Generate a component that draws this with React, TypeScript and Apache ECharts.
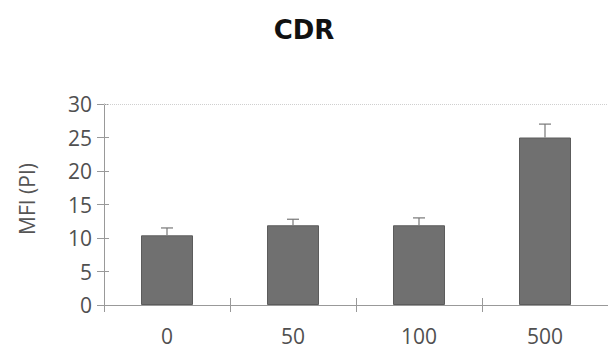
import React, { useEffect, useRef } from "react";
import * as echarts from "echarts";

const categories = ["0", "50", "100", "500"];
const meanValues = [10.4, 11.9, 11.9, 25.0];
const errorValues = [1.1, 0.9, 1.1, 2.0];
const yTicks = [0, 5, 10, 15, 20, 25, 30];
const yAxisTitle = "MFI (PI)";

export default function App() {
  const ref = useRef<HTMLDivElement>(null);
  useEffect(() => {
    if (!ref.current) return;
    const chart = echarts.init(ref.current, undefined, { renderer: "svg" });
    const errData = meanValues.map((v, i) => [i, v, v + errorValues[i]]);
    const yMin = yTicks[0];
    const yMax = yTicks[yTicks.length - 1];
    const labelFont = { fontFamily: "Open Sans", fontSize: 21, color: "#505050" };
    chart.setOption({
      animation: false,
      title: {
        text: "CDR",
        left: "center",
        top: 12,
        textStyle: { fontFamily: "DejaVu Sans", fontWeight: "bold", fontSize: 26, color: "#111" },
      },
      graphic: [
        {
          type: "text",
          x: 27,
          y: 199,
          rotation: Math.PI / 2,
          style: {
            text: yAxisTitle,
            fontFamily: "Open Sans",
            fontSize: 21,
            fill: "#555",
            textAlign: "center",
            textVerticalAlign: "middle",
          },
        },
      ],
      grid: { left: 104, right: 0, top: 104, bottom: 44 },
      xAxis: [
        {
          type: "category",
          data: categories,
          axisLine: { lineStyle: { color: "#999", width: 1 } },
          axisTick: { show: true, alignWithLabel: false, length: 7, lineStyle: { color: "#999" } },
          axisLabel: { ...labelFont, margin: 20 },
        },
        {
          type: "category",
          data: categories,
          position: "bottom",
          axisLine: { show: false },
          axisTick: { show: true, inside: true, length: 7, lineStyle: { color: "#999" } },
          axisLabel: { show: false },
        },
      ],
      yAxis: [
        {
          type: "value",
          min: yMin,
          max: yMax,
          interval: 5,
          axisLine: { show: true, lineStyle: { color: "#999", width: 1 } },
          axisTick: { show: true, length: 7, lineStyle: { color: "#999" } },
          splitLine: { show: false },
          axisLabel: { ...labelFont, margin: 12 },
        },
        {
          type: "value",
          min: yMin,
          max: yMax,
          interval: 5,
          position: "left",
          axisLine: { show: false },
          axisTick: { show: true, inside: true, length: 5, lineStyle: { color: "#999" } },
          splitLine: { show: false },
          axisLabel: { show: false },
        },
      ],
      series: [
        {
          type: "bar",
          data: meanValues,
          barWidth: 52,
          itemStyle: { color: "#707070", borderColor: "#5c5c5c", borderWidth: 1 },
          markLine: {
            silent: true,
            symbol: "none",
            label: { show: false },
            lineStyle: { color: "#cfcfcf", type: "dotted", width: 1 },
            data: [{ yAxis: 30 }],
          },
        },
        {
          type: "custom",
          data: errData,
          renderItem: (params: any, api: any) => {
            const x = api.value(0);
            const low = api.coord([x, api.value(1)]);
            const high = api.coord([x, api.value(2)]);
            const half = 6;
            const style = { stroke: "#777", lineWidth: 1.2 };
            return {
              type: "group",
              children: [
                { type: "line", shape: { x1: low[0], y1: low[1], x2: high[0], y2: high[1] }, style },
                { type: "line", shape: { x1: high[0] - half, y1: high[1], x2: high[0] + half, y2: high[1] }, style },
              ],
            };
          },
          z: 3,
        },
      ],
    });
    return () => chart.dispose();
  }, []);
  return <div ref={ref} style={{ width: 608, height: 349, position: "absolute", left: 0, top: 0 }} />;
}
